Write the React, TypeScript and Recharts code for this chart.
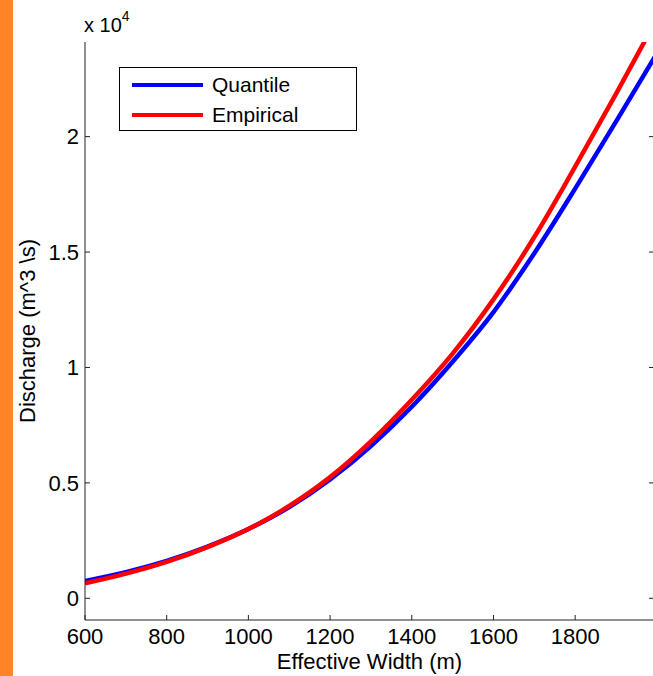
import { LineChart, Line, XAxis, YAxis, Legend } from "recharts";

const widths = [600, 700, 800, 900, 1000, 1100, 1200, 1300, 1400, 1500, 1600, 1700, 1800, 1900, 2000];
const quantile = [750, 1130, 1620, 2240, 3000, 3950, 5150, 6600, 8300, 10250, 12400, 14950, 17750, 20650, 23600];
const empirical = [650, 1070, 1580, 2220, 3000, 4000, 5250, 6800, 8600, 10600, 12950, 15650, 18700, 21850, 25100];
const xTicks = [600, 800, 1000, 1200, 1400, 1600, 1800];
const yTicks = [0, 5000, 10000, 15000, 20000];

const data = widths.map((w, i) => ({ w, quantile: quantile[i], empirical: empirical[i] }));

const font = "'Liberation Sans', Arial, sans-serif";
const axisColor = "#222";
const tickStyle = { fontSize: 22, fill: "#000", fontFamily: font };

function LegendBox() {
  const items = [
    { label: "Quantile", color: "#0000ff" },
    { label: "Empirical", color: "#ff0000" },
  ];
  return (
    <div
      style={{
        width: 236,
        height: 62,
        border: "1px solid #000",
        background: "#fff",
        fontFamily: font,
        fontSize: 21,
        position: "relative",
      }}
    >
      {items.map((it, i) => (
        <div key={it.label} style={{ position: "absolute", left: 12, top: 4 + i * 30, height: 26, display: "flex", alignItems: "center" }}>
          <div style={{ width: 71, height: 4, background: it.color, marginRight: 9 }} />
          <span style={{ color: "#000" }}>{it.label}</span>
        </div>
      ))}
    </div>
  );
}

export default function App() {
  return (
    <div style={{ position: "fixed", left: 0, top: 0, width: 653, height: 676, overflow: "hidden", background: "#fff" }}>
      <LineChart width={660} height={676} data={data} margin={{ top: 42, right: 0, bottom: 0, left: 0 }}>
        <XAxis
          dataKey="w"
          type="number"
          domain={[600, 1993]}
          allowDataOverflow
          ticks={xTicks}
          height={56}
          tickSize={-5}
          tickMargin={13}
          tick={tickStyle}
          stroke={axisColor}
          label={{
            value: "Effective Width (m)",
            position: "insideBottom",
            offset: 7,
            style: { fontSize: 22, fill: "#000", fontFamily: font },
          }}
        />
        <XAxis
          xAxisId="top"
          orientation="top"
          dataKey="w"
          type="number"
          domain={[600, 1993]}
          allowDataOverflow
          ticks={xTicks}
          height={0}
          tickSize={-5}
          tickFormatter={() => ""}
          stroke={axisColor}
        />
        <YAxis
          type="number"
          domain={[-940, 24100]}
          allowDataOverflow
          ticks={yTicks}
          width={85}
          tickSize={-5}
          tickMargin={11}
          tick={tickStyle}
          tickFormatter={(v: number) => String(v / 10000)}
          stroke={axisColor}
          label={{
            value: "Discharge (m^3 \\s)",
            angle: -90,
            position: "insideLeft",
            offset: 27,
            style: { textAnchor: "middle", fontSize: 22, fill: "#000", fontFamily: font },
          }}
        />
        <YAxis
          yAxisId="right"
          orientation="right"
          type="number"
          domain={[-940, 24100]}
          allowDataOverflow
          ticks={yTicks}
          width={6}
          tickSize={-5}
          tickFormatter={() => ""}
          stroke={axisColor}
        />
        <Legend
          layout="vertical"
          align="center"
          verticalAlign="middle"
          content={() => <LegendBox />}
          wrapperStyle={{ position: "absolute", left: 119, top: 67, width: 238, height: 64 }}
        />
        <Line type="monotone" dataKey="quantile" stroke="#0000ff" strokeWidth={4.5} dot={false} isAnimationActive={false} />
        <Line type="monotone" dataKey="empirical" stroke="#ff0000" strokeWidth={4.5} dot={false} isAnimationActive={false} />
      </LineChart>
      <div style={{ position: "absolute", left: 84, top: 14, fontFamily: font, fontSize: 20, color: "#000" }}>
        x 10<sup style={{ fontSize: 14, verticalAlign: "top", position: "relative", top: -6 }}>4</sup>
      </div>
      <div style={{ position: "absolute", left: 0, top: 0, width: 13, height: 676, background: "#ff8427" }} />
    </div>
  );
}
